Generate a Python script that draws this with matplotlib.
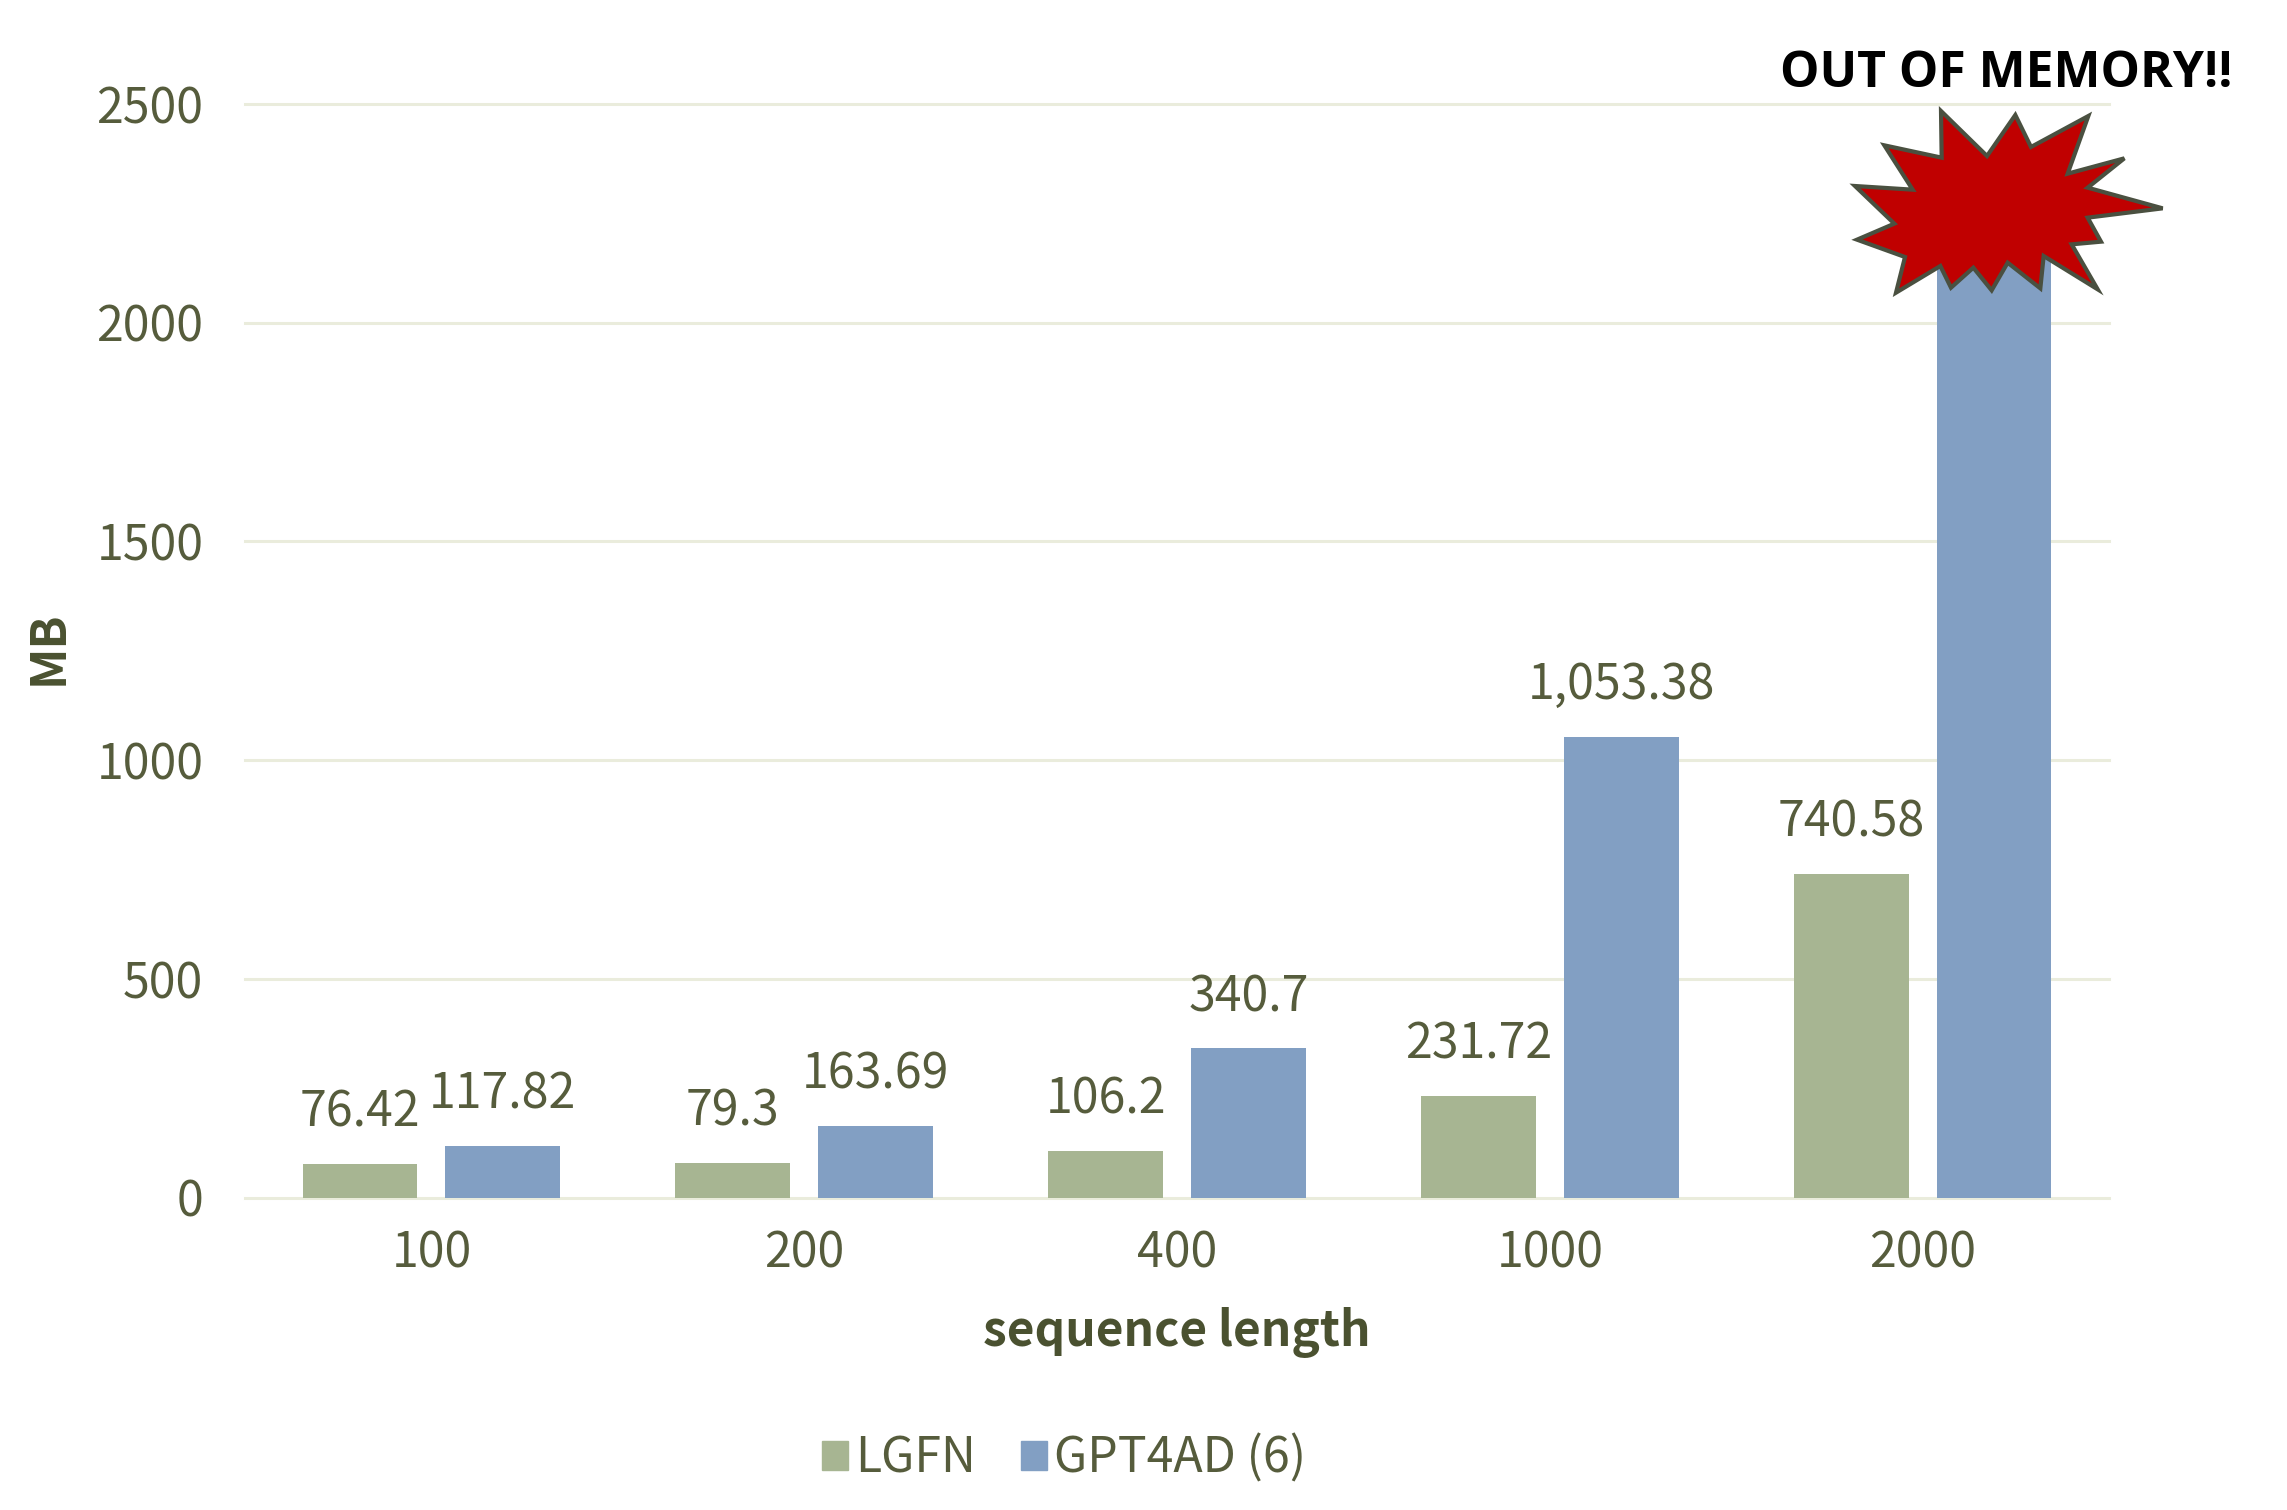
import matplotlib
matplotlib.use("Agg")
import matplotlib.pyplot as plt
from matplotlib.patches import Polygon, Patch
import numpy as np

W, H = 2287, 1510
categories = ["100", "200", "400", "1000", "2000"]
lgfn = [76.42, 79.3, 106.2, 231.72, 740.58]
gpt4ad = [117.82, 163.69, 340.7, 1053.38, 2250]
lgfn_labels = ["76.42", "79.3", "106.2", "231.72", "740.58"]
gpt4ad_labels = ["117.82", "163.69", "340.7", "1,053.38", ""]
yticks = [0, 500, 1000, 1500, 2000, 2500]
series_names = ["LGFN", "GPT4AD (6)"]
annotation = "OUT OF MEMORY!!"

star_zoom = [(480,330),(618,465),(703,342),(750,438),(922,345),(860,518),(1030,472),(920,560),
             (1145,622),(920,650),(960,722),(872,730),(950,865),(788,765),(778,862),(680,785),
             (632,868),(577,800),(510,860),(478,795),(345,875),(372,768),(228,716),(340,668),
             (222,555),(395,566),(310,433),(482,470)]

GREEN, BLUE = "#a7b592", "#829fc3"
TXT, BOLD, GRID = "#565c3c", "#4a5130", "#eaecdc"
FONT = ["Noto Sans CJK SC", "DejaVu Sans"]
plt.rcParams["font.family"] = FONT
FS = 34.7

fig = plt.figure(figsize=(W/100, H/100), dpi=100, facecolor="white")
ax = fig.add_axes([245/W, 1-1197.5/H, 1864/W, 1093.5/H])
x = np.arange(len(categories))
bw, off = 0.308, 0.1915
ax.bar(x-off, lgfn, bw, color=GREEN, zorder=3)
ax.bar(x+off, gpt4ad, bw, color=BLUE, zorder=3)
ax.set_xlim(-0.5, 4.5)
ax.set_ylim(0, 2500)
ax.set_xticks(x, categories)
ax.set_yticks(yticks)
ax.tick_params(length=0, labelsize=FS, labelcolor=TXT)
ax.tick_params(axis="x", pad=23)
ax.tick_params(axis="y", pad=30)
for lab in ax.get_xticklabels() + ax.get_yticklabels():
    lab.set_fontweight("light")
ax.yaxis.grid(True, color=GRID, lw=2.2, clip_on=False, zorder=1)
ax.set_axisbelow(True)
for s in ax.spines.values():
    s.set_visible(False)
for xs, vals, labs in ((x-off, lgfn, lgfn_labels), (x+off, gpt4ad, gpt4ad_labels)):
    for xi, v, l in zip(xs, vals, labs):
        if l:
            ax.annotate(l, (xi, v), xytext=(0, 19), textcoords="offset points", ha="center",
                        va="bottom", fontsize=FS, color=TXT, fontweight="light", zorder=4)

ov = fig.add_axes([0, 0, 1, 1], facecolor="none")
ov.set_xlim(0, W); ov.set_ylim(H, 0); ov.axis("off")
pts = [(1781+a/3, 1+b/3) for a, b in star_zoom]
ov.add_patch(Polygon(pts, closed=True, fc="#c00000", ec="#4a5040", lw=3, joinstyle="miter"))
ov.text(2006, 74, annotation, ha="center", va="center", fontsize=35.8, fontweight="bold",
        color="black", family="Open Sans")
ov.text(48, 648, "MB", rotation=90, ha="center", va="center", fontsize=35, fontweight="bold", color=BOLD)
ov.text(1177, 1333, "sequence length", ha="center", va="center", fontsize=34.4, fontweight="bold", color=BOLD)

handles = [Patch(color=GREEN, label=series_names[0]), Patch(color=BLUE, label=series_names[1])]
leg = fig.legend(handles=handles, loc="center", bbox_to_anchor=(1064/W, 1-1459/H), ncol=2, frameon=False,
                 labelcolor=TXT, handlelength=0.54, handleheight=0.54, handletextpad=0.14,
                 columnspacing=0.95, prop={"size": FS, "weight": "light"})
fig.savefig("out.png", dpi=100, facecolor="white")
